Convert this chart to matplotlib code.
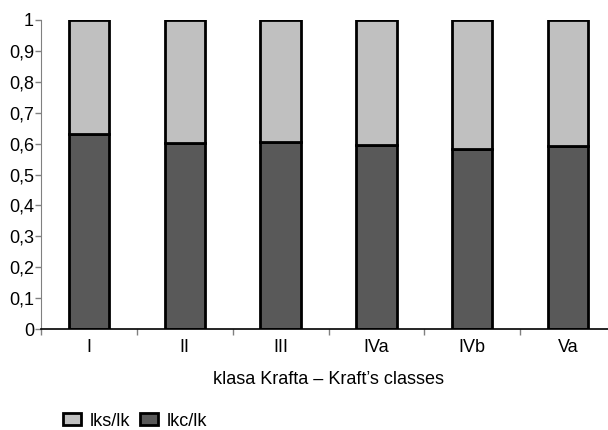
import numpy as np
import matplotlib.pyplot as plt
from matplotlib.patches import Patch

plt.rcParams['font.family'] = ['Liberation Sans', 'DejaVu Sans']

classes = ["I", "II", "III", "IVa", "IVb", "Va"]
lkc_lk = [0.63, 0.603, 0.605, 0.597, 0.583, 0.593]
lks_lk = [1 - v for v in lkc_lk]

yticks = [0, 0.1, 0.2, 0.3, 0.4, 0.5, 0.6, 0.7, 0.8, 0.9, 1]
ytick_labels = ["0", "0,1", "0,2", "0,3", "0,4", "0,5", "0,6", "0,7", "0,8", "0,9", "1"]

dark = "#595959"
light = "#c0c0c0"
fs = 13

fig = plt.figure(figsize=(6.08, 4.30), dpi=100)
ax = fig.add_axes([41/608, 101/430, 575/608, 309/430])

x = np.arange(len(classes))
ax.bar(x, lkc_lk, width=0.42, color=dark, edgecolor="black", linewidth=2)
ax.bar(x, lks_lk, bottom=lkc_lk, width=0.42, color=light, edgecolor="black", linewidth=2)

ax.set_xlim(-0.5, len(classes) - 0.5)
ax.set_ylim(0, 1)
ax.set_yticks(yticks)
ax.set_yticklabels(ytick_labels, fontsize=fs)

# boundary ticks between classes, labels at centres
ax.set_xticks(np.arange(len(classes) + 1) - 0.5)
ax.set_xticklabels([])
ax.set_xticks(x, minor=True)
ax.set_xticklabels(classes, minor=True, fontsize=fs)
ax.tick_params(axis="x", which="major", length=4, color="#808080", width=1)
ax.tick_params(axis="x", which="minor", length=0, pad=7)
ax.tick_params(axis="y", length=4, color="#808080", width=1, pad=1)

for side in ["top", "right"]:
    ax.spines[side].set_visible(False)
ax.spines["left"].set_color("#808080")
ax.spines["bottom"].set_color("black")
ax.spines["bottom"].set_linewidth(1.2)

ax.set_xlabel("klasa Krafta \u2013 Kraft\u2019s classes", fontsize=fs, labelpad=11)

handles = [Patch(facecolor=light, edgecolor="black", linewidth=2, label="lks/lk"),
           Patch(facecolor=dark, edgecolor="black", linewidth=2, label="lkc/lk")]
fig.legend(handles=handles, loc="center left", bbox_to_anchor=(54/608, 1 - 421/430),
           ncol=2, frameon=False, fontsize=fs, handlelength=1.0, handleheight=0.6,
           handletextpad=0.5, columnspacing=0.5, borderpad=0)

fig.savefig("out.png", dpi=100)
